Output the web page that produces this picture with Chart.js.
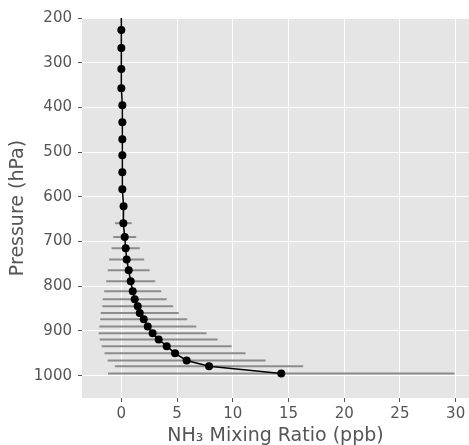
<!DOCTYPE html>
<html lang="en">
<head>
<meta charset="UTF-8">
<title>NH3 profile</title>
<script src="https://cdn.jsdelivr.net/npm/chart.js@4.4.1/dist/chart.umd.min.js"></script>
<style>
  html, body { margin: 0; padding: 0; background: #fff; }
</style>
</head>
<body>
<canvas id="profile" width="469" height="445"></canvas>
<script>
// NH3 mixing ratio profile (ppb) against pressure level (hPa), +/- spread as error bars
var pressure = [150, 227, 267, 314, 357, 395, 433, 471, 507, 545, 583, 621, 659, 690, 715, 740, 764, 789, 811, 829, 845, 860, 874, 890, 905, 919, 934, 950, 966, 979, 995];
var nh3      = [0.0, 0.0, 0.0, 0.0, 0.0, 0.09, 0.09, 0.09, 0.09, 0.09, 0.09, 0.2, 0.18, 0.30, 0.39, 0.48, 0.66, 0.84, 1.02, 1.20, 1.47, 1.65, 2.01, 2.37, 2.81, 3.35, 4.07, 4.82, 5.86, 7.87, 14.35];
var nh3Err   = [0, 0, 0, 0, 0, 0, 0, 0, 0, 0, 0, 0.3, 0.75, 1.03, 1.27, 1.57, 1.88, 2.20, 2.56, 2.87, 3.18, 3.50, 3.90, 4.35, 4.84, 5.29, 5.83, 6.32, 7.09, 8.45, 15.55];

var xTicks = [0, 5, 10, 15, 20, 25, 30];
var yTicks = [200, 300, 400, 500, 600, 700, 800, 900, 1000];
var xRange = [-3.53, 31.2];
var yRange = [200, 1050];

var FONT = "'DejaVu Sans', sans-serif";
var TXT = '#555555';

var points = pressure.map(function (p, i) { return {x: nh3[i], y: p}; });

// grey panel behind the grid
var panelBg = {
  id: 'panelBg',
  beforeDraw: function (chart) {
    var a = chart.chartArea, ctx = chart.ctx;
    ctx.save();
    ctx.fillStyle = '#e5e5e5';
    ctx.fillRect(a.left, a.top, a.right - a.left, a.bottom - a.top);
    ctx.restore();
  }
};

// horizontal error bars, drawn under the line and markers
var xErrBars = {
  id: 'xErrBars',
  beforeDatasetsDraw: function (chart) {
    var a = chart.chartArea, ctx = chart.ctx;
    var xs = chart.scales.x, ys = chart.scales.y;
    ctx.save();
    ctx.beginPath();
    ctx.rect(a.left, a.top, a.right - a.left, a.bottom - a.top);
    ctx.clip();
    ctx.strokeStyle = '#8c8c8c';
    ctx.lineWidth = 2;
    for (var i = 0; i < pressure.length; i++) {
      if (!nh3Err[i]) continue;
      var y = ys.getPixelForValue(pressure[i]);
      ctx.beginPath();
      ctx.moveTo(xs.getPixelForValue(nh3[i] - nh3Err[i]), y);
      ctx.lineTo(xs.getPixelForValue(nh3[i] + nh3Err[i]), y);
      ctx.stroke();
    }
    ctx.restore();
  }
};

function plainTick(v) { return String(v); }

new Chart(document.getElementById('profile'), {
  type: 'scatter',
  data: {
    datasets: [{
      data: points,
      showLine: true,
      borderColor: '#000',
      borderWidth: 1.5,
      tension: 0,
      pointRadius: 4,
      pointBackgroundColor: '#000',
      pointBorderWidth: 0
    }]
  },
  options: {
    responsive: false,
    animation: false,
    devicePixelRatio: 1,
    layout: { autoPadding: false, padding: { top: 18, right: 0, bottom: 0, left: 0 } },
    plugins: { legend: { display: false }, tooltip: { enabled: false } },
    scales: {
      x: {
        type: 'linear',
        position: 'bottom',
        min: xRange[0],
        max: xRange[1],
        afterBuildTicks: function (s) { s.ticks = xTicks.map(function (v) { return {value: v}; }); },
        afterFit: function (s) { s.height = 47; s.paddingLeft = 0; s.paddingRight = 0; },
        border: { display: false },
        grid: { color: '#fff', lineWidth: 1, tickLength: 4, tickColor: TXT, tickWidth: 1 },
        ticks: { color: TXT, padding: 3, callback: plainTick, font: { family: FONT, size: 15 } },
        title: {
          display: true,
          text: 'NH\u2083 Mixing Ratio (ppb)',
          color: TXT,
          font: { family: FONT, size: 19 },
          padding: { top: 0, bottom: -2 }
        }
      },
      y: {
        type: 'linear',
        reverse: true,
        min: yRange[0],
        max: yRange[1],
        afterBuildTicks: function (s) { s.ticks = yTicks.map(function (v) { return {value: v}; }); },
        afterFit: function (s) { s.width = 82; s.paddingTop = 0; s.paddingBottom = 0; },
        border: { display: false },
        grid: { color: '#fff', lineWidth: 1, tickLength: 4, tickColor: TXT, tickWidth: 1 },
        ticks: { color: TXT, padding: 6, callback: plainTick, font: { family: FONT, size: 15 } },
        title: {
          display: true,
          text: 'Pressure (hPa)',
          color: TXT,
          font: { family: FONT, size: 19 },
          padding: { top: 7, bottom: 0 }
        }
      }
    }
  },
  plugins: [panelBg, xErrBars]
});
</script>
</body>
</html>
